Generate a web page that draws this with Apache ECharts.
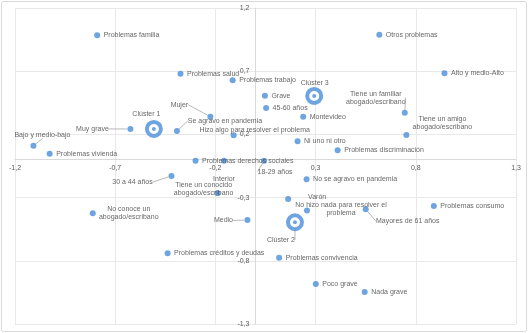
<!DOCTYPE html>
<html><head><meta charset="utf-8">
<script src="https://cdn.jsdelivr.net/npm/echarts@6/dist/echarts.min.js"></script>
<style>html,body{margin:0;padding:0;background:#fff}#c{width:529px;height:333px}</style>
</head><body><div id="c"></div>
<script>
// ---- data ----
const pointNames = [
  'Problemas familia','Problemas salud','Problemas trabajo','Otros problemas','Alto y medio-Alto',
  'Grave','45-60 años','Montevideo','Mujer','Se agravo en pandemia',
  'Hizo algo para resolver el problema','Ni uno ni otro','Tiene un familiar\nabogado/escribano','Tiene un amigo\nabogado/escribano','Problemas discriminación',
  'Muy grave','Bajo y medio-bajo','Problemas vivienda','Problemas derechos sociales','Interior',
  'Tiene un conocido\nabogado/escribano','18-29 años','30 a 44 años','No se agravo en pandemia','Varón',
  'No hizo nada para resolver el\nproblema','Mayores de 61 años','Medio','Problemas consumo','No conoce un\nabogado/escribano',
  'Problemas créditos y deudas','Problemas convivencia','Poco grave','Nada grave'
];
const pointX = [
  -0.79, -0.374, -0.114, 0.618, 0.943,
  0.047, 0.053, 0.238, -0.225, -0.392,
  -0.109, 0.21, 0.745, 0.753, 0.41,
  -0.624, -1.108, -1.027, -0.299, -0.157,
  -0.189, 0.043, -0.419, 0.255, 0.163,
  0.257, 0.55, -0.04, 0.89, -0.812,
  -0.4385, 0.118, 0.301, 0.545
];
const pointY = [
  0.984, 0.68, 0.628, 0.989, 0.683,
  0.506, 0.409, 0.34, 0.34, 0.227,
  0.193, 0.146, 0.372, 0.195, 0.074,
  0.243, 0.111, 0.047, -0.008, -0.008,
  -0.266, -0.008, -0.129, -0.155, -0.311,
  -0.403, -0.392, -0.477, -0.366, -0.424,
  -0.741, -0.775, -0.983, -1.047
];
const clusterNames = ['Clúster 1','Clúster 2','Clúster 3'];
const clusterX = [-0.507, 0.197, 0.293];
const clusterY = [0.243, -0.495, 0.504];
const xTicks = [-1.2, -0.7, -0.2, 0.3, 0.8, 1.3];
const yTicks = [-1.3, -0.8, -0.3, 0.2, 0.7, 1.2];

// ---- label layout (style, not data) ----
const labelOffsets = {
  'Mujer': [-31, -12],
  'Se agravo en pandemia': [48, -10],
  'Hizo algo para resolver el problema': [21, -5],
  'Tiene un familiar\nabogado/escribano': [-29, -15],
  'Tiene un amigo\nabogado/escribano': [36, -12],
  'Muy grave': [-38, 0],
  'Bajo y medio-bajo': [9, -11],
  '30 a 44 años': [-39, 6],
  'Interior': [0, 18.5],
  'Tiene un conocido\nabogado/escribano': [-14, -4],
  '18-29 años': [11, 11],
  'Varón': [29, -2],
  'No hizo nada para resolver el\nproblema': [34, -1.5],
  'Mayores de 61 años': [42, 12],
  'Medio': [-24, 0.5],
  'No conoce un\nabogado/escribano': [36, 0],
  'Clúster 1': [-7.5, -15],
  'Clúster 2': [-14, 18],
  'Clúster 3': [0.5, -13]
};
const withLeader = ['Mujer','Se agravo en pandemia','Tiene un familiar\nabogado/escribano','Muy grave',
  'Bajo y medio-bajo','30 a 44 años','Medio','Mayores de 61 años','Clúster 2','18-29 años'];

const BLUE = '#4a8fd8';
const FONT = "'Liberation Sans', Arial, sans-serif";
const labelBase = { show: true, fontSize: 7, color: '#404040', fontFamily: FONT, lineHeight: 8 };

function makeItem(name, x, y) {
  const item = { name: name, value: [x, y] };
  const off = labelOffsets[name];
  if (off) {
    item.label = { position: 'inside', offset: off, align: 'center', verticalAlign: 'middle' };
  }
  if (withLeader.indexOf(name) >= 0) {
    item.labelLine = { show: true, lineStyle: { color: '#a6a6a6', width: 0.8 } };
  }
  return item;
}
const pointData = pointNames.map((n, i) => makeItem(n, pointX[i], pointY[i]));
const clusterData = clusterNames.map((n, i) => makeItem(n, clusterX[i], clusterY[i]));
const clusterDot = clusterNames.map((n, i) => [clusterX[i], clusterY[i]]);

const fmt = v => String(Math.round(v * 10) / 10).replace('.', ',');

const chart = echarts.init(document.getElementById('c'), null, { renderer: 'canvas' });
chart.setOption({
  animation: false,
  backgroundColor: '#fff',
  graphic: [{
    type: 'rect', shape: { x: 1.5, y: 1.5, width: 525, height: 330, r: 2 },
    style: { fill: 'none', stroke: '#d9d9d9', lineWidth: 1 }, silent: true, z: -1
  }],
  grid: { left: 15, right: 13, top: 8, bottom: 9, containLabel: false, outerBoundsMode: 'none' },
  xAxis: {
    type: 'value', min: -1.2, max: 1.3, position: 'bottom',
    axisLine: { onZero: false, lineStyle: { color: '#d9d9d9' } },
    axisTick: { show: false, customValues: xTicks },
    axisLabel: { customValues: xTicks, formatter: fmt, fontSize: 7, color: '#595959', fontFamily: FONT, margin: 5 },
    splitLine: { show: true, lineStyle: { color: '#e8e8e8', width: 1 } }
  },
  yAxis: {
    type: 'value', min: -1.3, max: 1.2, position: 'left',
    axisLine: { onZero: false, lineStyle: { color: '#d9d9d9' } },
    axisTick: { show: false, customValues: yTicks },
    axisLabel: { customValues: yTicks, formatter: fmt, fontSize: 7, color: '#595959', fontFamily: FONT, margin: 6 },
    splitLine: { show: true, lineStyle: { color: '#e8e8e8', width: 1 } }
  },
  series: [
    {
      type: 'scatter', data: pointData, symbolSize: 6,
      itemStyle: { color: BLUE },
      label: Object.assign({}, labelBase, { position: 'right', distance: 3.5, formatter: p => p.name }),
      emphasis: { disabled: true }, z: 3
    },
    {
      type: 'scatter', data: clusterData, symbolSize: 14,
      itemStyle: { color: '#fff', borderColor: BLUE, borderWidth: 4 },
      label: Object.assign({}, labelBase, { position: 'top', formatter: p => p.name }),
      emphasis: { disabled: true }, z: 4
    },
    {
      type: 'scatter', data: clusterDot, symbolSize: 4,
      itemStyle: { color: BLUE }, silent: true, label: { show: false }, z: 5
    }
  ]
});
// Move both axes (line + labels) to cross at the origin, as in the reference.
const origin = chart.convertToPixel({ gridIndex: 0 }, [0, 0]);
const corner = chart.convertToPixel({ gridIndex: 0 }, [-1.2, -1.3]);
chart.setOption({
  xAxis: { offset: -(corner[1] - origin[1]) },
  yAxis: { offset: -(origin[0] - corner[0]) }
});
</script>
</body></html>
